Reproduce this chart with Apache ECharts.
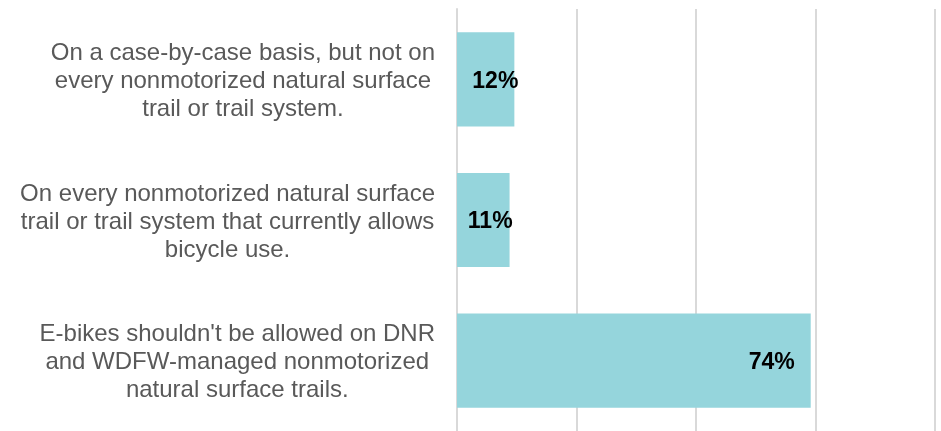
<!DOCTYPE html>
<html>
<head>
<meta charset="utf-8">
<script src="https://cdn.jsdelivr.net/npm/echarts@6/dist/echarts.min.js"></script>
<style>
html,body{margin:0;padding:0;background:#fff;}
#chart{width:941px;height:431px;}
</style>
</head>
<body>
<div id="chart"></div>
<script>
const categories = [
  "On a case-by-case basis, but not on\nevery nonmotorized natural surface\ntrail or trail system.",
  "On every nonmotorized natural surface\ntrail or trail system that currently allows\nbicycle use.",
  "E-bikes shouldn't be allowed on DNR\nand WDFW-managed nonmotorized\nnatural surface trails."
];
const values = [12, 11, 74];
const labelOffsets = [[9, 2], [8, 2], [-11, 2]];

const chart = echarts.init(document.getElementById('chart'), null, {renderer: 'canvas'});
const option = {
  animation: false,
  backgroundColor: '#ffffff',
  grid: {left: 457, width: 478, top: 9, height: 425, containLabel: false},
  xAxis: {
    type: 'value', min: 0, max: 100, interval: 25,
    axisLabel: {show: false},
    axisLine: {show: false},
    axisTick: {show: false},
    splitLine: {show: true, lineStyle: {color: '#d9d9d9', width: 2}}
  },
  yAxis: {
    type: 'category', data: categories, inverse: true,
    axisLine: {show: true, lineStyle: {color: '#d9d9d9', width: 2}},
    axisTick: {show: false},
    axisLabel: {
      margin: 22,
      formatter: function (v) {
        return v.split('\n').map(function (l) { return '{a|' + l + '}'; }).join('\n');
      },
      rich: {
        a: {align: 'center', fontSize: 24, lineHeight: 28, color: '#595959', fontFamily: 'Liberation Sans, Arial, sans-serif', padding: [4, 0, 0, 0]}
      }
    }
  },
  series: [{
    type: 'bar',
    data: values.map(function (v, i) {
      return {value: v, label: {offset: labelOffsets[i]}};
    }),
    barCategoryGap: '33%',
    itemStyle: {color: '#95d5dc'},
    label: {
      show: true, position: 'insideRight', distance: 5,
      formatter: '{c}%',
      color: '#000000', fontWeight: 'bold', fontSize: 23,
      fontFamily: 'Liberation Sans, Arial, sans-serif'
    }
  }]
};
chart.setOption(option);
</script>
</body>
</html>
